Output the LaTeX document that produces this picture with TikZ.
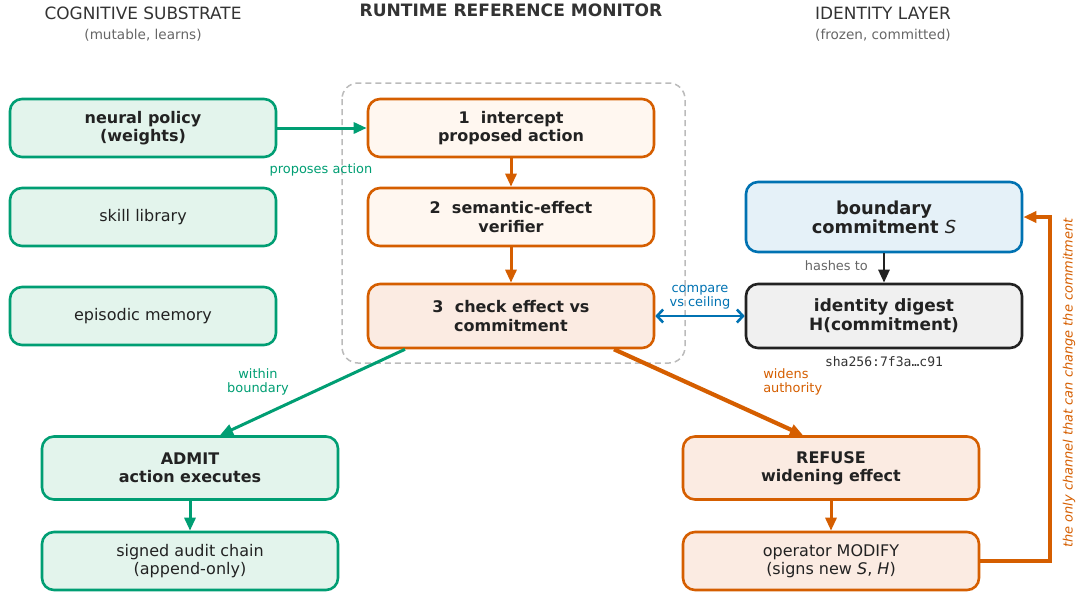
\documentclass[tikz,border=0pt]{standalone}
\usepackage{fontspec}
\setmainfont{DejaVu Sans}
\setmonofont{DejaVu Sans Mono}
\usetikzlibrary{arrows.meta}
\definecolor{grn}{HTML}{009E73}
\definecolor{grnf}{HTML}{E3F4EC}
\definecolor{org}{HTML}{D55E00}
\definecolor{orgf}{HTML}{FFF7F0}
\definecolor{orgg}{HTML}{FBEBE2}
\definecolor{blu}{HTML}{0072B2}
\definecolor{bluf}{HTML}{E5F1F8}
\definecolor{dig}{HTML}{222222}
\definecolor{digf}{HTML}{F0F0F0}
\definecolor{txt}{HTML}{222222}
\definecolor{ttl}{HTML}{333333}
\definecolor{sub}{HTML}{666666}
\definecolor{dsh}{HTML}{BBBBBB}
\tikzset{
  box/.style={draw, rounded corners=9pt, line width=1.95pt, align=center, inner sep=0pt, text=txt},
  wide/.style={minimum width=199.5pt},
  wider/.style={minimum width=222pt},
  mid/.style={minimum width=214.5pt},
  gbox/.style={box, draw=grn, fill=grnf},
  obox/.style={box, draw=org, fill=orgf},
  ogbox/.style={box, draw=org, fill=orgg},
  bbox/.style={box, draw=blu, fill=bluf},
  dbox/.style={box, draw=dig, fill=digf},
  bl/.style={font=\fontsize{12}{13.8}\selectfont\bfseries},
  nl/.style={font=\fontsize{12}{13.8}\selectfont},
  sl/.style={font=\fontsize{9.7}{10.5}\selectfont, align=center, inner sep=0pt},
  tip/.style={-{Triangle[length=9.75pt,width=8.25pt]}},
  garrow/.style={tip, draw=grn, line width=2.25pt},
  oarrow/.style={tip, draw=org, line width=2.25pt},
  othick/.style={tip, draw=org, line width=3.15pt},
}
\begin{document}
\begin{tikzpicture}[x=0.75pt,y=-0.75pt]
\useasboundingbox (0,0) rectangle (1079,594);
% titles
\node[font=\fontsize{12.7}{14}\selectfont, text=ttl] (t1) at (143,13) {COGNITIVE SUBSTRATE};
\node[font=\fontsize{10.2}{11}\selectfont, text=sub] (s1) at (143,35) {(mutable, learns)};
\node[font=\fontsize{12.8}{14}\selectfont\bfseries, text=ttl] (t2) at (511,10) {RUNTIME REFERENCE MONITOR};
\node[font=\fontsize{12.7}{14}\selectfont, text=ttl] (t3) at (883,13) {IDENTITY LAYER};
\node[font=\fontsize{10.2}{11}\selectfont, text=sub] (s3) at (883,35) {(frozen, committed)};
% dashed monitor frame
\draw[dsh, line width=1.125pt, dash pattern=on 4.5pt off 3pt, rounded corners=12pt] (342,83) rectangle (685,363);
% left column
\node[gbox, wide, minimum height=43.5pt, bl] (np) at (143,128) {neural policy\\(weights)};
\node[gbox, wide, minimum height=43.5pt, nl] (sk) at (143,217) {skill library};
\node[gbox, wide, minimum height=43.5pt, nl] (em) at (143,316) {episodic memory};
% monitor
\node[obox, mid, minimum height=43.5pt, bl] (c1) at (511,128) {1\ \ intercept\\proposed action};
\node[obox, mid, minimum height=43.5pt, bl] (c2) at (511,217) {2\ \ semantic-effect\\verifier};
\node[ogbox, mid, minimum height=48pt, bl] (c3) at (511,316) {3\ \ check effect vs\\commitment};
% identity
\node[bbox, minimum width=207pt, minimum height=52.5pt, font=\fontsize{13.4}{14.5}\selectfont\bfseries] (bc) at (884,217) {boundary\\commitment {\mdseries\itshape S}};
\node[dbox, minimum width=207pt, minimum height=48pt, font=\fontsize{12.7}{14.5}\selectfont\bfseries] (id) at (884,316) {identity digest\\H(commitment)};
\node[font=\fontsize{9.8}{11}\selectfont\ttfamily, text=ttl, inner sep=0pt] (sha) at (884,362) {sha256:7f3a…c91};
% outcomes
\node[gbox, wider, minimum height=47.25pt, bl] (ad) at (190,468) {ADMIT\\action executes};
\node[gbox, wider, minimum height=43.5pt, nl] (au) at (190,561) {signed audit chain\\(append-only)};
\node[ogbox, wider, minimum height=47.25pt, bl] (rf) at (831,468) {REFUSE\\widening effect};
\node[ogbox, wider, minimum height=43.5pt, nl] (md) at (831,561) {operator MODIFY\\(signs new \textit{S}, \textit{H})};
% connectors
\draw[garrow] (np.east) -- (c1.west);
\node[sl, text=grn] (lpa) at (321,170) {proposes action};
\draw[oarrow] (c1.south) -- (c2.north);
\draw[oarrow] (c2.south) -- (c3.north);
\draw[blu, line width=1.95pt, {Straight Barb[length=4.5pt,width=9.75pt]}-{Straight Barb[length=4.5pt,width=9.75pt]}] (c3.east) -- (id.west);
\node[sl, text=blu] (lcv) at (700,297) {compare\\vs ceiling};
\draw[tip, draw=dig, line width=1.95pt] (bc.south) -- (id.north);
\node[sl, text=sub, anchor=east] (lh) at (868,266) {hashes to};
\draw[garrow] ([xshift=-79.5pt]c3.south) -- ([xshift=22.5pt]ad.north);
\node[sl, text=grn] (lwb) at (258,382) {within\\boundary};
\draw[othick] ([xshift=77.25pt]c3.south) -- ([xshift=-21pt]rf.north);
\node[sl, text=org, anchor=west, align=left] (lwa) at (763,382) {widens\\authority};
\draw[garrow] (ad.south) -- (au.north);
\draw[oarrow] (rf.south) -- (md.north);
\draw[othick] (md.east) -- ++(70,0) |- (bc.east);
\node[sl, text=org, rotate=90, font=\fontsize{9.7}{11}\selectfont\itshape] (lch) at (1069,383) {the only channel that can change the commitment};
\end{tikzpicture}
\end{document}
